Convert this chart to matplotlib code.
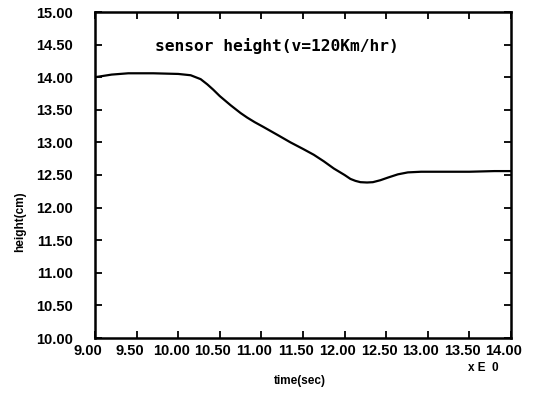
import matplotlib
matplotlib.use("Agg")
import matplotlib.pyplot as plt
from matplotlib.transforms import ScaledTranslation

# sensor height vs time
time_sec = [9.00, 9.20, 9.40, 9.70, 10.00, 10.15, 10.27, 10.35, 10.42, 10.50,
            10.63, 10.75, 10.83, 10.92, 11.02, 11.20, 11.35, 11.50, 11.63, 11.75,
            11.87, 12.00, 12.07, 12.13, 12.19, 12.27, 12.34, 12.43, 12.52, 12.64,
            12.76, 12.92, 13.20, 13.50, 13.80, 14.00]
height_cm = [14.00, 14.04, 14.06, 14.06, 14.05, 14.03, 13.97, 13.89, 13.81, 13.71,
             13.57, 13.45, 13.38, 13.31, 13.24, 13.11, 13.00, 12.90, 12.81, 12.71,
             12.60, 12.50, 12.44, 12.41, 12.39, 12.385, 12.39, 12.42, 12.46, 12.51,
             12.54, 12.55, 12.55, 12.55, 12.56, 12.56]

xticks = [9.0 + 0.5 * i for i in range(11)]
yticks = [10.0 + 0.5 * i for i in range(11)]

fig = plt.figure(figsize=(5.34, 3.94), dpi=100)
ax = fig.add_axes([95 / 534, 56 / 394, 416 / 534, 326 / 394])

ax.plot(time_sec, height_cm, color="black", lw=1.6)

ax.set_xlim(9, 14)
ax.set_ylim(10, 15)
ax.set_xticks(xticks)
ax.set_yticks(yticks)
ax.set_xticklabels([f"{v:.2f}" for v in xticks])
ax.set_yticklabels([f"{v:.2f}" for v in yticks])
ax.tick_params(direction="in", length=5, width=1.3, top=True, right=True,
               labelsize=10.5, pad=4)
ax.tick_params(axis="y", pad=16)
for lab in ax.get_xticklabels() + ax.get_yticklabels():
    lab.set_fontfamily("Liberation Sans")
    lab.set_fontweight("bold")
# x labels sit a little left of their ticks in the original
shift = ScaledTranslation(-7 / 100, 0, fig.dpi_scale_trans)
for lab in ax.get_xticklabels():
    lab.set_transform(lab.get_transform() + shift)

for s in ax.spines.values():
    s.set_linewidth(1.8)

ax.text(0.145, 0.895, "sensor height(v=120Km/hr)", transform=ax.transAxes,
        family="DejaVu Sans Mono", fontweight="bold", fontsize=11.7, ha="left",
        va="center")

fig.text(300 / 534, 1 - 381 / 394, "time(sec)", family="Liberation Sans",
         fontweight="bold", fontsize=8.5, ha="center", va="center")
fig.text(483 / 534, 1 - 368 / 394, "x E  0", family="Liberation Sans",
         fontweight="bold", fontsize=8.5, ha="center", va="center")
fig.text(20 / 534, 1 - 222 / 394, "height(cm)", family="Liberation Sans",
         fontweight="bold", fontsize=8.5, ha="center", va="center", rotation=90)

fig.savefig("out.png", dpi=100)
